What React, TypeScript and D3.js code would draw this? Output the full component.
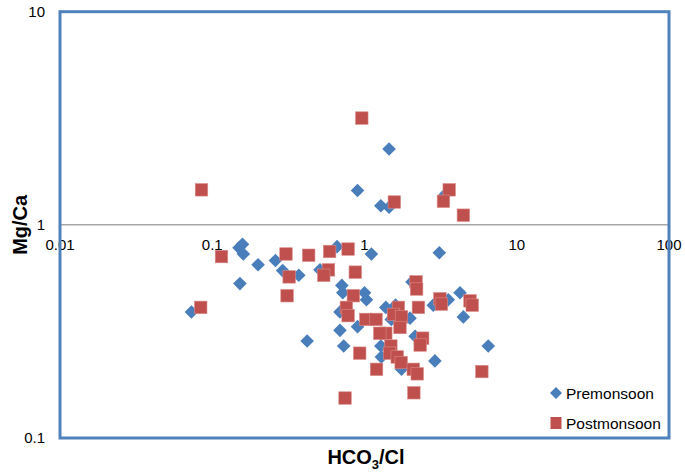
import React from 'react';
import * as d3 from 'd3';

// HCO3/Cl vs Mg/Ca
const preX = [1.45, 0.9, 1.28, 1.45, 3.4, 0.158, 0.15, 0.16, 0.2, 0.26, 0.29, 0.66, 0.37, 0.51, 0.152, 0.71, 0.72, 0.073, 0.42, 0.69, 0.73, 0.69, 1.11, 3.1, 1.0, 1.03, 1.38, 1.99, 0.9, 1.28, 1.29, 1.75, 2.05, 2.83, 3.55, 4.24, 4.46, 2.15, 2.9, 6.5, 1.6, 1.5];
const preY = [2.27, 1.45, 1.23, 1.21, 1.39, 0.81, 0.78, 0.73, 0.65, 0.68, 0.61, 0.79, 0.58, 0.615, 0.53, 0.52, 0.48, 0.39, 0.285, 0.32, 0.27, 0.39, 0.73, 0.74, 0.48, 0.445, 0.41, 0.365, 0.333, 0.27, 0.24, 0.21, 0.54, 0.42, 0.445, 0.48, 0.37, 0.3, 0.23, 0.27, 0.42, 0.36];

const postX = [0.96, 0.085, 1.57, 3.6, 3.3, 4.46, 0.115, 0.305, 0.43, 0.59, 0.78, 0.32, 0.58, 0.54, 0.31, 0.084, 0.87, 0.845, 0.76, 0.78, 1.67, 1.02, 1.19, 1.55, 1.75, 1.71, 1.38, 1.26, 1.49, 1.46, 1.64, 1.74, 0.93, 1.2, 2.09, 2.22, 2.11, 0.745, 2.18, 2.2, 2.26, 3.13, 3.2, 4.93, 5.1, 2.41, 2.32, 5.9];
const postY = [3.17, 1.46, 1.28, 1.46, 1.29, 1.11, 0.71, 0.73, 0.72, 0.75, 0.77, 0.57, 0.615, 0.58, 0.465, 0.41, 0.6, 0.465, 0.41, 0.375, 0.41, 0.36, 0.36, 0.38, 0.37, 0.33, 0.31, 0.31, 0.27, 0.25, 0.24, 0.226, 0.25, 0.21, 0.21, 0.2, 0.163, 0.154, 0.54, 0.5, 0.41, 0.45, 0.425, 0.44, 0.42, 0.294, 0.273, 0.205];

const xTicks = [0.01, 0.1, 1, 10, 100];
const yTicks = [0.1, 1, 10];
const seriesNames = ['Premonsoon', 'Postmonsoon'];

const BLUE = '#4a7ebb';
const RED = '#c0504d';
const FONT = '"Liberation Sans", Arial, sans-serif';

export default function App() {
  const width = 685;
  const height = 473;
  const left = 60, right = 669, top = 11.7, bottom = 438;

  const x = d3.scaleLog().domain([0.01, 100]).range([left, right]);
  const y = d3.scaleLog().domain([0.1, 10]).range([bottom, top]);

  const diamond = (cx: number, cy: number, r: number) =>
    `M${cx},${cy - r}L${cx + r},${cy}L${cx},${cy + r}L${cx - r},${cy}Z`;

  const sq = 12.5;

  return (
    <svg
      width={width}
      height={height}
      style={{ position: 'absolute', left: 0, top: 0, background: '#fff' }}
    >
      <rect x={0} y={0} width={width} height={height} fill="#fff" />

      {/* horizontal axis line at Mg/Ca = 1 */}
      <line x1={left} x2={right} y1={y(1)} y2={y(1)} stroke="#a6a6a6" strokeWidth={1.5} />

      {/* y tick labels */}
      {yTicks.map(t => (
        <text key={'y' + t} x={45} y={y(t)} dy="0.35em" textAnchor="end"
          fontFamily={FONT} fontSize={15} fill="#000">{t}</text>
      ))}

      {/* x tick labels, hanging below the y = 1 line */}
      {xTicks.map(t => (
        <text key={'x' + t} x={x(t)} y={y(1) + 25} textAnchor="middle"
          fontFamily={FONT} fontSize={15} fill="#000">{t}</text>
      ))}

      {/* Premonsoon */}
      {preX.map((v, i) => (
        <path key={'p' + i} d={diamond(x(v), y(preY[i]), 6.8)} fill={BLUE} />
      ))}

      {/* Postmonsoon */}
      {postX.map((v, i) => (
        <rect key={'q' + i} x={x(v) - sq / 2} y={y(postY[i]) - sq / 2} width={sq} height={sq}
          fill={RED} stroke="#d98b89" strokeWidth={0.6} />
      ))}

      {/* plot frame */}
      <rect x={left} y={top} width={right - left} height={bottom - top}
        fill="none" stroke="#4f81bd" strokeWidth={3} />

      {/* legend */}
      <path d={diamond(556, 393, 6)} fill={BLUE} />
      <text x={566} y={398.5} fontFamily={FONT} fontSize={15.5} fill="#000">{seriesNames[0]}</text>
      <rect x={550.5} y={417} width={11} height={12} fill={RED} />
      <text x={566} y={428.5} fontFamily={FONT} fontSize={15.5} fill="#000">{seriesNames[1]}</text>

      {/* axis titles */}
      <text transform={`translate(27,${y(1)}) rotate(-90)`} textAnchor="middle"
        fontFamily={FONT} fontSize={20} fontWeight="bold" fill="#000">Mg/Ca</text>
      <text x={366} y={464} textAnchor="middle" fontFamily={FONT} fontSize={20}
        fontWeight="bold" fill="#000">
        HCO<tspan fontSize={13} dy={5}>3</tspan><tspan dy={-5}>/Cl</tspan>
      </text>
    </svg>
  );
}
